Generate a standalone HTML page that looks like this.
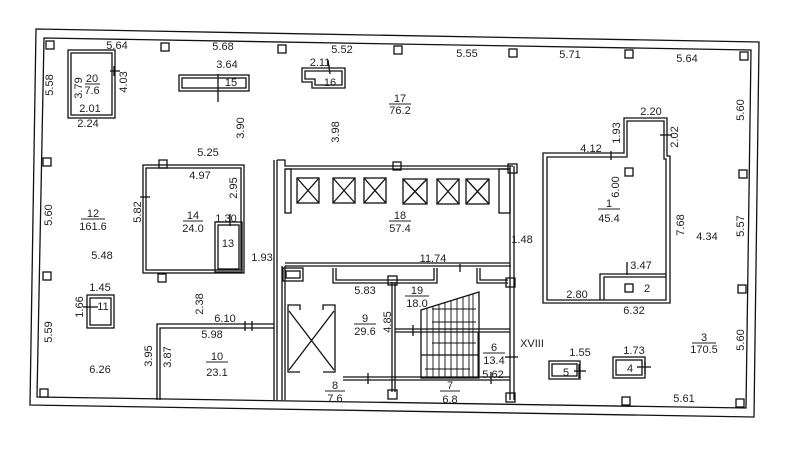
<!DOCTYPE html>
<html><head><meta charset="utf-8"><style>
html,body{margin:0;padding:0;background:#fff;}
svg{display:block;}
text{font-family:"Liberation Sans",sans-serif;font-size:11px;fill:#222;text-anchor:middle;}
</style></head><body>
<svg width="796" height="450" viewBox="0 0 796 450" xmlns="http://www.w3.org/2000/svg">
<g fill="none" stroke="#111" stroke-width="1.3">
<!-- outer walls -->
<polygon points="36,29 759,42 754,417 30,405"/>
<polygon points="44,38 751,50 746,408 37,397"/>
<!-- columns -->
<g fill="#fff">
<rect x="46" y="41" width="8" height="8"/><rect x="161" y="43" width="8" height="8"/>
<rect x="278" y="45" width="8" height="8"/><rect x="394" y="46" width="8" height="8"/>
<rect x="509" y="49" width="8" height="8"/><rect x="625" y="50" width="8" height="8"/>
<rect x="740" y="52" width="8" height="8"/>
<rect x="43" y="158" width="8" height="8"/><rect x="43" y="272" width="8" height="8"/>
<rect x="40" y="389" width="8" height="8"/>
<rect x="739" y="170" width="8" height="8"/><rect x="738" y="285" width="8" height="8"/>
<rect x="736" y="399" width="8" height="8"/><rect x="622" y="397" width="8" height="8"/>
<rect x="625" y="168" width="8" height="8"/>
<rect x="159" y="160" width="8" height="8"/><rect x="158" y="274" width="8" height="8"/>
<rect x="393" y="162" width="8" height="8"/><rect x="508" y="164" width="9" height="9"/>
<rect x="388" y="276" width="9" height="9"/><rect x="506" y="278" width="9" height="9"/>
<rect x="388" y="390" width="9" height="9"/><rect x="506" y="393" width="9" height="9"/>
</g>
<!-- room 20 -->
<rect x="68" y="50" width="47" height="68"/><rect x="71" y="53" width="41" height="62"/>
<line x1="110" y1="71" x2="120" y2="71"/><line x1="114" y1="66" x2="114" y2="76"/>
<!-- room 15 -->
<rect x="179" y="75" width="70" height="16"/><rect x="182" y="78" width="64" height="10"/>
<line x1="218" y1="74" x2="218" y2="102"/>
<!-- room 16 -->
<polygon points="302,68 345,68 345,88 312,88 312,82 302,82"/>
<polygon points="305,71 342,71 342,85 315,85 315,79 305,79"/>
<line x1="328" y1="60" x2="330" y2="74"/>
<!-- room 14 -->
<rect x="143" y="165" width="101" height="108"/><rect x="146" y="168" width="95" height="102"/>
<rect x="215" y="222" width="27" height="50"/><rect x="218" y="225" width="21" height="44"/>
<line x1="140" y1="197" x2="150" y2="197"/><line x1="230" y1="214" x2="230" y2="226"/>
<!-- room 10 -->
<polyline points="157,400 157,324 274,324"/><polyline points="160,400 160,328 274,328"/>
<line x1="245" y1="321" x2="245" y2="331"/><line x1="252" y1="321" x2="252" y2="331"/>
<line x1="274" y1="160" x2="274" y2="400"/><line x1="277" y1="160" x2="277" y2="400"/>
<line x1="282" y1="266" x2="282" y2="400"/><line x1="285" y1="266" x2="285" y2="400"/>
<!-- room 11 -->
<rect x="87" y="295" width="27" height="33"/><rect x="90" y="298" width="21" height="27"/>
<line x1="83" y1="307" x2="98" y2="307"/>
<!-- elevator block 18 -->
<polyline points="277,160 285,160 285,166 513,166"/><line x1="285" y1="169" x2="510" y2="169"/>
<rect x="285" y="169" width="6" height="44"/>
<rect x="499" y="169" width="11" height="44"/>
<line x1="510" y1="166" x2="510" y2="400"/><line x1="514" y1="166" x2="514" y2="400"/>
<line x1="285" y1="266" x2="511" y2="266"/><line x1="285" y1="263" x2="510" y2="263"/>
<g>
<rect x="297" y="178" width="22" height="25"/><path d="M297,178 L319,203 M319,178 L297,203"/>
<rect x="333" y="178" width="22" height="25"/><path d="M333,178 L355,203 M355,178 L333,203"/>
<rect x="364" y="178" width="22" height="25"/><path d="M364,178 L386,203 M386,178 L364,203"/>
<rect x="403" y="179" width="24" height="25"/><path d="M403,179 L427,204 M427,179 L403,204"/>
<rect x="437" y="179" width="22" height="25"/><path d="M437,179 L459,204 M459,179 L437,204"/>
<rect x="466" y="179" width="23" height="25"/><path d="M466,179 L489,204 M489,179 L466,204"/>
</g>
<!-- lower core -->
<rect x="283" y="268" width="20" height="13"/><rect x="286" y="271" width="14" height="7"/>
<polyline points="333,268 333,283 437,283 437,268"/><polyline points="336,268 336,280 434,280 434,268"/>
<polyline points="477,268 477,283 508,283"/><polyline points="480,268 480,280 508,280"/>
<line x1="460" y1="264" x2="460" y2="272"/>
<line x1="392" y1="282" x2="392" y2="392"/><line x1="395" y1="282" x2="395" y2="392"/>
<polyline points="300,310 300,305 288,305 288,372 300,372"/>
<polyline points="323,372 335,372 335,305 323,305 323,310"/>
<path d="M289,311 L334,370 M334,311 L289,370"/>
<line x1="343" y1="377" x2="510" y2="377"/><line x1="343" y1="380" x2="510" y2="380"/>
<line x1="368" y1="373" x2="368" y2="384"/>
<line x1="395" y1="329" x2="510" y2="329"/><line x1="395" y1="332" x2="510" y2="332"/>
<line x1="413" y1="325" x2="413" y2="336"/>
<!-- stairs -->
<polygon points="421,310 479,292 479,378 421,378"/>
<line x1="421" y1="355" x2="479" y2="355"/>
<g stroke-width="0.9">
<line x1="427" y1="308" x2="427" y2="378"/><line x1="433" y1="306" x2="433" y2="378"/>
<line x1="439" y1="304" x2="439" y2="378"/><line x1="445" y1="303" x2="445" y2="378"/>
<line x1="451" y1="301" x2="451" y2="378"/><line x1="457" y1="299" x2="457" y2="378"/>
<line x1="463" y1="297" x2="463" y2="378"/><line x1="469" y1="295" x2="469" y2="378"/>
<line x1="473" y1="294" x2="473" y2="378"/>
<line x1="432" y1="309" x2="476" y2="309"/><line x1="432" y1="322" x2="476" y2="322"/>
<line x1="432" y1="343" x2="476" y2="343"/><line x1="425" y1="369" x2="470" y2="369"/>
</g>
<rect x="478" y="332" width="32" height="45" stroke-width="1"/>
<line x1="505" y1="357" x2="518" y2="357"/><line x1="491" y1="372" x2="491" y2="384"/>
<!-- room 1 / 2 -->
<polygon points="543,153 624,153 624,118 667,118 667,156 670,156 670,303 543,303"/>
<polygon points="547,157 627,157 627,121 664,121 664,159 666,159 666,300 547,300"/>
<polyline points="600,300 600,274 666,274"/><polyline points="604,300 604,277 666,277"/>
<line x1="627" y1="262" x2="627" y2="275"/><rect x="625" y="284" width="8" height="8"/>
<line x1="611" y1="151" x2="611" y2="160"/><line x1="660" y1="135" x2="672" y2="135"/>
<!-- rooms 5 and 4 -->
<rect x="549" y="361" width="31" height="18"/><rect x="552" y="364" width="25" height="12"/>
<line x1="574" y1="371" x2="586" y2="371"/><line x1="579" y1="364" x2="579" y2="378"/>
<rect x="613" y="357" width="32" height="21"/><rect x="616" y="360" width="26" height="15"/>
<line x1="637" y1="367" x2="651" y2="367"/><line x1="645" y1="361" x2="645" y2="374"/>
</g>
<!-- labels -->
<text x="117" y="49">5.64</text><text x="223" y="50">5.68</text><text x="342" y="53">5.52</text>
<text x="467" y="57">5.55</text><text x="570" y="58">5.71</text><text x="687" y="62">5.64</text>
<text transform="translate(53,85) rotate(-90)">5.58</text>
<text transform="translate(52,215) rotate(-90)">5.60</text>
<text transform="translate(52,332) rotate(-90)">5.59</text>
<text transform="translate(82,88) rotate(-90)">3.79</text>
<text x="92" y="82">20</text><line x1="85" y1="84" x2="100" y2="84" stroke="#222"/><text x="92" y="94">7.6</text>
<text transform="translate(127,82) rotate(-90)">4.03</text>
<text x="90" y="112">2.01</text><text x="88" y="127" fill="#555">2.24</text>
<text x="227" y="68">3.64</text><text x="231" y="86">15</text>
<text x="320" y="66">2.11</text><text x="330" y="86">16</text>
<text x="400" y="102">17</text><line x1="389" y1="104" x2="411" y2="104" stroke="#222"/><text x="400" y="114">76.2</text>
<text transform="translate(244,128) rotate(-90)">3.90</text>
<text transform="translate(339,132) rotate(-90)">3.98</text>
<text x="208" y="156">5.25</text><text x="200" y="179">4.97</text>
<text transform="translate(237,188) rotate(-90)">2.95</text>
<text transform="translate(141,212) rotate(-90)">5.82</text>
<text x="93" y="217">12</text><line x1="81" y1="219" x2="105" y2="219" stroke="#222"/><text x="93" y="230">161.6</text>
<text x="193" y="219">14</text><line x1="183" y1="221" x2="203" y2="221" stroke="#222"/><text x="193" y="232">24.0</text>
<text x="226" y="222">1.30</text><text x="228" y="247">13</text>
<text x="262" y="261">1.93</text><text x="102" y="259">5.48</text>
<text x="100" y="291">1.45</text>
<text transform="translate(83,307) rotate(-90)">1.66</text><text x="103" y="310">11</text>
<text transform="translate(203,304) rotate(-90)">2.38</text>
<text x="225" y="322">6.10</text><text x="212" y="338">5.98</text>
<text transform="translate(152,356) rotate(-90)">3.95</text>
<text transform="translate(171,357) rotate(-90)">3.87</text>
<text x="100" y="373">6.26</text>
<text x="217" y="360">10</text><line x1="206" y1="362" x2="228" y2="362" stroke="#222"/><text x="217" y="376">23.1</text>
<text x="400" y="219">18</text><line x1="389" y1="221" x2="411" y2="221" stroke="#222"/><text x="400" y="232">57.4</text>
<text x="433" y="262">11.74</text><text x="522" y="243">1.48</text>
<text x="365" y="294">5.83</text>
<text x="417" y="294">19</text><line x1="405" y1="296" x2="429" y2="296" stroke="#222"/><text x="417" y="307">18.0</text>
<text x="365" y="322">9</text><line x1="354" y1="324" x2="376" y2="324" stroke="#222"/><text x="365" y="335">29.6</text>
<text transform="translate(391,322) rotate(-90)">4.85</text>
<text x="494" y="351">6</text><line x1="483" y1="353" x2="505" y2="353" stroke="#222"/><text x="494" y="364">13.4</text>
<text x="532" y="347">XVIII</text><text x="493" y="378">5.62</text>
<text x="450" y="389">7</text><line x1="440" y1="391" x2="460" y2="391" stroke="#222"/><text x="450" y="403">6.8</text>
<text x="335" y="389">8</text><line x1="325" y1="391" x2="345" y2="391" stroke="#222"/><text x="335" y="402">7.6</text>
<text x="651" y="115">2.20</text>
<text transform="translate(620,133) rotate(-90)">1.93</text>
<text transform="translate(678,137) rotate(-90)">2.02</text>
<text x="591" y="152">4.12</text>
<text transform="translate(619,187) rotate(-90)">6.00</text>
<text x="609" y="207">1</text><line x1="598" y1="209" x2="620" y2="209" stroke="#222"/><text x="609" y="222">45.4</text>
<text transform="translate(684,225) rotate(-90)">7.68</text>
<text x="707" y="240">4.34</text>
<text transform="translate(744,110) rotate(-90)">5.60</text>
<text transform="translate(744,226) rotate(-90)">5.57</text>
<text x="641" y="269">3.47</text><text x="647" y="292">2</text>
<text x="577" y="298">2.80</text><text x="634" y="314">6.32</text>
<text x="580" y="356">1.55</text><text x="634" y="354">1.73</text>
<text x="566" y="376">5</text><text x="630" y="372">4</text>
<text x="704" y="341">3</text><line x1="692" y1="343" x2="716" y2="343" stroke="#222"/><text x="704" y="353">170.5</text>
<text transform="translate(744,340) rotate(-90)">5.60</text>
<text x="684" y="402">5.61</text>
</svg>
</body></html>
